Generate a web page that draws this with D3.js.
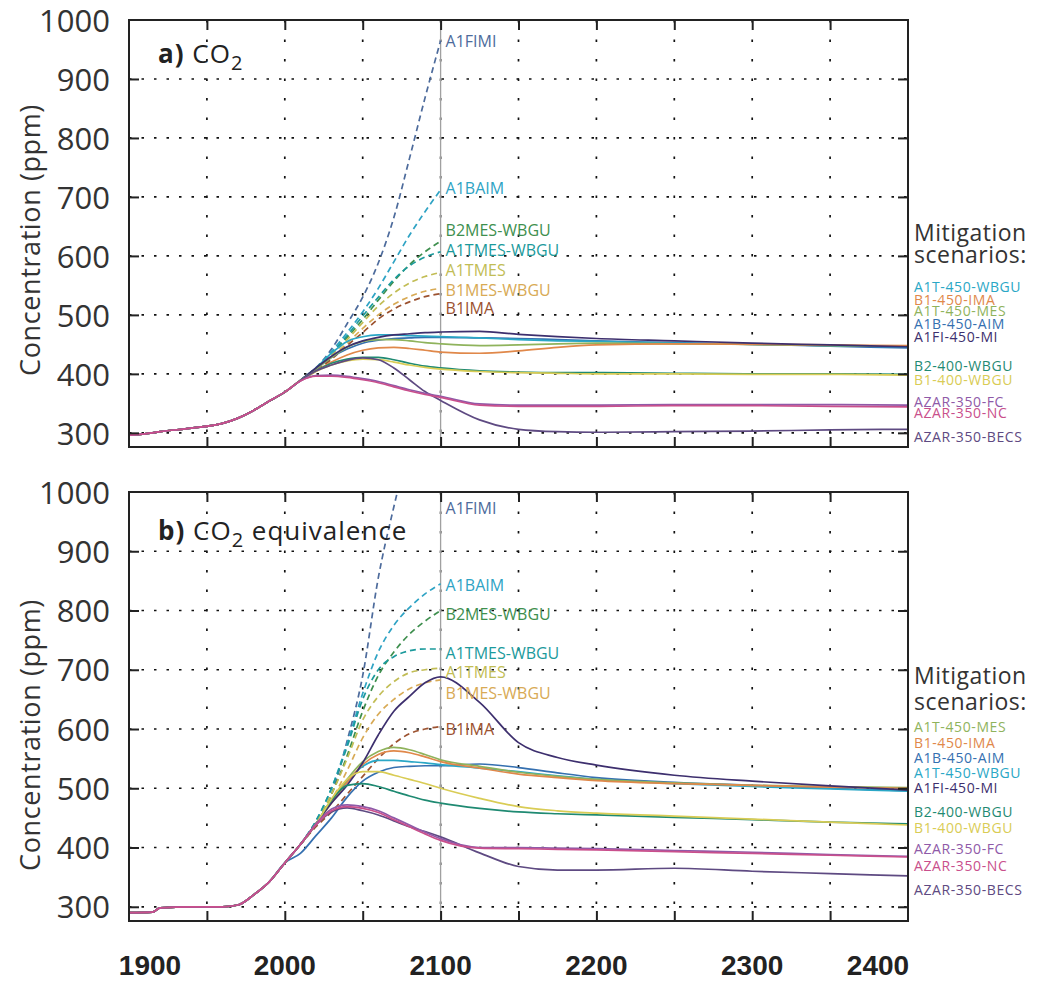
<!DOCTYPE html>
<html>
<head>
<meta charset="utf-8">
<script src="https://cdn.jsdelivr.net/npm/d3@7"></script>
<style>
  body { margin: 0; background: #fff; }
  svg { display: block; font-family: "Open Sans", sans-serif; }
</style>
</head>
<body>
<svg id="chart" width="1049" height="983"></svg>
<script>
/* Stabilisation scenarios: a) CO2, b) CO2 equivalence */

// ---------- data ----------
const histYears = [1900, 1915, 1920, 1940, 1960, 1970, 1980, 1990, 2000];
const histCO2   = [296, 300, 302, 308, 316, 325, 338, 354, 369];
const histCO2eq = [290, 291, 298, 300, 300, 303, 320, 342, 374];

// baseline (no mitigation) scenarios, dashed, up to 2100
const baseYears = [2010, 2020, 2030, 2040, 2050, 2060, 2070, 2080, 2090, 2100];
const baseNames = ["A1FIMI", "A1BAIM", "B2MES-WBGU", "A1TMES-WBGU", "A1TMES", "B1MES-WBGU", "B1IMA"];
const baseColors = ["#4d6b9c", "#2ea3c4", "#3e8f4e", "#1b9a9c", "#c2bd55", "#d8aa55", "#9c5230"];
const baseCO2 = [
  [389, 410, 442, 485, 530, 588, 665, 765, 868, 965],
  [389, 410, 438, 470, 505, 545, 590, 635, 675, 712],
  [389, 410, 435, 462, 492, 525, 557, 585, 607, 625],
  [389, 410, 435, 465, 498, 530, 560, 583, 598, 607],
  [389, 408, 432, 458, 487, 515, 537, 554, 565, 572],
  [389, 407, 428, 452, 477, 500, 518, 531, 540, 545],
  [389, 405, 425, 448, 470, 493, 510, 522, 531, 536]
];
const baseCO2eq = [
  [405, 440, 490, 580, 690, 855, 975, 1080, 1160, 1230],
  [405, 445, 500, 575, 660, 730, 775, 805, 828, 845],
  [405, 440, 490, 555, 630, 690, 730, 760, 782, 800],
  [405, 445, 500, 570, 650, 700, 722, 732, 735, 735],
  [405, 440, 490, 550, 615, 655, 680, 695, 700, 703],
  [405, 440, 480, 530, 585, 625, 650, 668, 678, 683],
  [405, 435, 460, 490, 520, 550, 575, 592, 600, 604]
];
// where the 2100 label of each baseline sits (ppm)
const baseLabelCO2   = [964, 714, 643, 609, 575, 541, 511];
const baseLabelCO2eq = [973, 843, 793, 728, 695, 661, 599];

// mitigation scenarios, solid, up to 2400
const mitYears = [2010, 2020, 2030, 2040, 2050, 2060, 2070, 2080, 2090, 2100,
                  2125, 2150, 2175, 2200, 2250, 2300, 2350, 2400];
const mitNames = ["A1T-450-WBGU", "B1-450-IMA", "A1T-450-MES", "A1B-450-AIM", "A1FI-450-MI",
                  "B2-400-WBGU", "B1-400-WBGU", "AZAR-350-FC", "AZAR-350-NC", "AZAR-350-BECS"];
const mitColors = ["#2aa7c6", "#e0884a", "#8fb35c", "#3570b0", "#3d2f6e",
                   "#1f8a72", "#d9cc55", "#8f5aa8", "#c94f8c", "#5e4a82"];
const mitCO2 = [
  [389, 410, 435, 455, 463, 466, 466, 465, 464, 463, 461, 458, 456, 455, 452, 450, 448, 446],
  [389, 405, 420, 432, 440, 444, 445, 443, 440, 437, 435, 439, 445, 449, 451, 450, 449, 448],
  [389, 408, 428, 445, 455, 458, 458, 456, 453, 451, 448, 449, 451, 452, 451, 450, 448, 447],
  [389, 408, 428, 442, 452, 457, 460, 461, 462, 462, 461, 460, 458, 456, 453, 450, 447, 444],
  [389, 410, 430, 446, 456, 462, 466, 468, 470, 471, 472, 467, 463, 460, 456, 452, 449, 446],
  [389, 405, 418, 425, 428, 428, 424, 418, 413, 410, 405, 403, 402, 402, 401, 400, 400, 399],
  [389, 404, 415, 422, 425, 424, 420, 415, 411, 408, 404, 402, 401, 400, 400, 399, 399, 398],
  [388, 397, 398, 396, 392, 387, 380, 373, 367, 362, 349, 347, 347, 347, 348, 348, 348, 347],
  [388, 396, 396, 394, 390, 385, 378, 371, 365, 360, 347, 345, 345, 345, 346, 346, 345, 344],
  [389, 405, 415, 423, 427, 424, 410, 390, 370, 355, 322, 306, 302, 301, 302, 303, 305, 306]
];
const mitCO2eq = [
  [405, 440, 478, 512, 537, 547, 547, 545, 543, 540, 534, 528, 521, 515, 508, 503, 499, 495],
  [405, 440, 475, 510, 540, 557, 563, 560, 553, 545, 534, 524, 518, 513, 508, 505, 502, 500],
  [405, 440, 478, 515, 545, 562, 569, 565, 557, 548, 537, 527, 520, 515, 509, 505, 503, 501],
  [390, 420, 450, 485, 512, 527, 535, 537, 538, 538, 541, 535, 526, 518, 510, 505, 500, 496],
  [405, 440, 475, 505, 543, 590, 630, 655, 678, 688, 645, 577, 552, 539, 522, 512, 504, 497],
  [405, 440, 480, 505, 508, 503, 495, 487, 480, 475, 466, 460, 457, 455, 451, 447, 443, 440],
  [405, 440, 482, 515, 528, 528, 522, 515, 508, 500, 483, 469, 462, 458, 453, 448, 443, 438],
  [405, 440, 465, 472, 469, 462, 450, 438, 426, 415, 400, 400, 399, 398, 395, 392, 388, 385],
  [405, 438, 462, 469, 466, 459, 447, 435, 423, 412, 399, 398, 397, 396, 393, 390, 387, 384],
  [405, 438, 460, 467, 462, 455, 445, 435, 427, 418, 391, 368, 362, 362, 365, 360, 356, 352]
];
const legendOrderA = ["A1T-450-WBGU", "B1-450-IMA", "A1T-450-MES", "A1B-450-AIM", "A1FI-450-MI",
                      "B2-400-WBGU", "B1-400-WBGU", "AZAR-350-FC", "AZAR-350-NC", "AZAR-350-BECS"];
const legendOrderB = ["A1T-450-MES", "B1-450-IMA", "A1B-450-AIM", "A1T-450-WBGU", "A1FI-450-MI",
                      "B2-400-WBGU", "B1-400-WBGU", "AZAR-350-FC", "AZAR-350-NC", "AZAR-350-BECS"];

const yTicks = d3.range(300, 1001, 100);
const xLabels = d3.range(1900, 2401, 100);

// ---------- layout ----------
const left = 129, right = 908;
const panels = [
  { id: "a", top: 20, bottom: 447, hist: histCO2, base: baseCO2, baseLab: baseLabelCO2, mit: mitCO2,
    order: legendOrderA, rows: [287, 300, 311, 324, 337, 366, 380, 402, 413, 437],
    head: [241, 263], titleY: 63, sub: "", yTitle: 240 },
  { id: "b", top: 492, bottom: 921, hist: histCO2eq, base: baseCO2eq, baseLab: baseLabelCO2eq, mit: mitCO2eq,
    order: legendOrderB, rows: [727, 743, 758, 773, 788, 812, 828, 849, 866, 890],
    head: [684, 710], titleY: 540, sub: " equivalence", yTitle: 735 }
];

const svg = d3.select("#chart");
const x = d3.scaleLinear().domain([1900, 2400]).range([left, right]);

const drawPanel = (p) => {
  const y = d3.scaleLinear().domain([276, 1000]).range([p.bottom, p.top]);
  const g = svg.append("g");

  g.append("clipPath").attr("id", "clip-" + p.id)
    .append("rect").attr("x", left).attr("y", p.top)
    .attr("width", right - left).attr("height", p.bottom - p.top);

  // dotted grid
  g.append("g").selectAll("line").data(d3.range(300, 1000, 100)).join("line")
    .attr("x1", left).attr("x2", right).attr("y1", d => y(d)).attr("y2", d => y(d))
    .attr("stroke", "#111").attr("stroke-width", 1.7).attr("stroke-dasharray", "2.5,10");
  g.append("g").selectAll("line").data(d3.range(1950, 2400, 50)).join("line")
    .attr("x1", d => x(d)).attr("x2", d => x(d)).attr("y1", p.top).attr("y2", p.bottom)
    .attr("stroke", "#111").attr("stroke-width", 1.7).attr("stroke-dasharray", "2.5,17");

  // 2100 marker
  g.append("line").attr("x1", x(2100)).attr("x2", x(2100)).attr("y1", p.top).attr("y2", p.bottom)
    .attr("stroke", "#a0a0a0").attr("stroke-width", 1.3);

  const line = d3.line().x(d => x(d[0])).y(d => y(d[1])).curve(d3.curveMonotoneX);
  const lines = g.append("g").attr("clip-path", `url(#clip-${p.id})`).attr("fill", "none");

  p.base.forEach((vals, i) => {
    lines.append("path")
      .datum(baseYears.map((yr, j) => [yr, vals[j]]))
      .attr("d", line).attr("stroke", baseColors[i])
      .attr("stroke-width", 1.7).attr("stroke-dasharray", "6,4");
  });

  const drawOrder = [3, 0, 2, 1, 4, 5, 6, 9, 7, 8];
  drawOrder.forEach(i => {
    const pts = histYears.map((yr, j) => [yr, p.hist[j]])
      .concat(mitYears.map((yr, j) => [yr, p.mit[i][j]]));
    lines.append("path").datum(pts).attr("d", line)
      .attr("stroke", mitColors[i]).attr("stroke-width", 1.7);
  });

  // frame + inward ticks
  g.append("rect").attr("x", left).attr("y", p.top)
    .attr("width", right - left).attr("height", p.bottom - p.top)
    .attr("fill", "none").attr("stroke", "#222").attr("stroke-width", 2);

  const xt = d3.range(1950, 2400, 50);
  const tickAxis = (axis, tr) => g.append("g").attr("transform", tr)
    .call(axis).call(a => a.select(".domain").remove())
    .call(a => a.selectAll(".tick line").attr("stroke", "#222").attr("stroke-width", 2));
  tickAxis(d3.axisBottom(x).tickValues(xt).tickSize(-10).tickFormat(""), `translate(0,${p.bottom})`);
  tickAxis(d3.axisTop(x).tickValues(xt).tickSize(-10).tickFormat(""), `translate(0,${p.top})`);
  tickAxis(d3.axisRight(y).tickValues(d3.range(300, 1000, 100)).tickSize(-10).tickFormat(""), `translate(${right},0)`);

  const yAxis = tickAxis(d3.axisLeft(y).tickValues(yTicks).tickSize(-10).tickPadding(19)
    .tickFormat(d3.format("d")), `translate(${left},0)`);
  yAxis.selectAll(".tick text")
    .attr("font-family", "Open Sans, sans-serif").attr("font-size", 31)
    .attr("fill", "#333").attr("dy", "0.36em");
  yAxis.selectAll(".tick").filter(d => d === 1000).select("line").remove();

  // axis title
  g.append("text")
    .attr("transform", `translate(40,${p.yTitle}) rotate(-90)`)
    .attr("text-anchor", "middle").attr("font-size", 27).attr("fill", "#333")
    .attr("letter-spacing", 0.6)
    .text("Concentration (ppm)");

  // panel title
  const t = g.append("text").attr("x", 158).attr("y", p.titleY)
    .attr("font-size", 26).attr("fill", "#222").attr("letter-spacing", 1);
  t.append("tspan").attr("font-weight", "bold").text(p.id + ")");
  t.append("tspan").text(" CO");
  t.append("tspan").attr("font-size", 20).attr("dy", 7).text("2");
  if (p.sub) t.append("tspan").attr("dy", -7).text(p.sub);

  // baseline labels at 2100
  g.append("g").selectAll("text").data(baseNames).join("text")
    .attr("x", x(2100) + 5).attr("y", (d, i) => y(p.baseLab[i])).attr("dy", "0.36em")
    .attr("font-size", 16).attr("fill", (d, i) => baseColors[i])
    .text(d => d);

  // right-hand legend
  g.append("text").attr("x", 914).attr("y", p.head[0]).attr("font-size", 23)
    .attr("fill", "#333").attr("letter-spacing", 0.5).text("Mitigation");
  g.append("text").attr("x", 914).attr("y", p.head[1]).attr("font-size", 23)
    .attr("fill", "#333").attr("letter-spacing", 0.5).text("scenarios:");
  g.append("g").selectAll("text").data(p.order).join("text")
    .attr("x", 914).attr("y", (d, i) => p.rows[i]).attr("dy", "0.36em")
    .attr("font-size", 14).attr("letter-spacing", 0.6)
    .attr("fill", d => mitColors[mitNames.indexOf(d)])
    .text(d => d);

  return y;
};

panels.forEach(drawPanel);

// shared year labels under panel b
svg.append("g").selectAll("text").data(xLabels).join("text")
  .attr("x", d => Math.min(Math.max(x(d), 150), 878))
  .attr("y", 975)
  .attr("text-anchor", "middle")
  .attr("font-family", "Liberation Sans, Arial, sans-serif")
  .attr("font-weight", "bold").attr("font-size", 28).attr("fill", "#222")
  .text(d => d);
</script>
</body>
</html>
